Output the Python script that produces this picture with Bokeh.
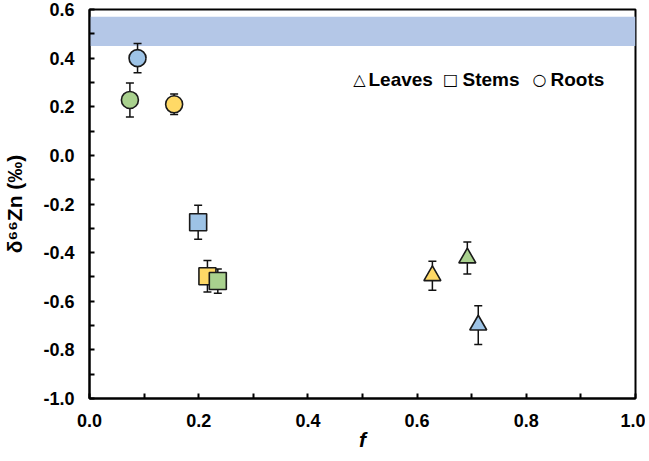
from bokeh.plotting import figure
from bokeh.models import (ColumnDataSource, FixedTicker, PrintfTickFormatter,
                          Whisker, TeeHead, Label, BoxAnnotation)
from bokeh.embed import file_html
from bokeh.resources import INLINE

# ---------------- data ----------------
BLUE = "#9DC3E6"
GREEN = "#A9D18E"
YELLOW = "#FFD966"

band_low = 0.45
band_high = 0.57

roots_f = [0.088, 0.074, 0.155]
roots_d = [0.400, 0.228, 0.210]
roots_err = [0.060, 0.070, 0.042]
roots_col = [BLUE, GREEN, YELLOW]

stems_f = [0.199, 0.216, 0.235]
stems_d = [-0.275, -0.497, -0.517]
stems_err = [0.070, 0.065, 0.050]
stems_col = [BLUE, YELLOW, GREEN]

leaves_f = [0.628, 0.692, 0.712]
leaves_d = [-0.495, -0.422, -0.698]
leaves_err = [0.060, 0.066, 0.080]
leaves_col = [YELLOW, GREEN, BLUE]

x_ticks = [0.0, 0.2, 0.4, 0.6, 0.8, 1.0]
x_minor = [0.1, 0.3, 0.5, 0.7, 0.9]
y_ticks = [-1.0, -0.8, -0.6, -0.4, -0.2, 0.0, 0.2, 0.4, 0.6]
y_minor = [-0.9, -0.7, -0.5, -0.3, -0.1, 0.1, 0.3, 0.5]

FONT = "Liberation Sans"
FH = 389

p = figure(output_backend="svg", toolbar_location=None,
           frame_width=546, frame_height=FH,
           x_range=(0.0, 1.0), y_range=(-1.0, 0.6),
           min_border_left=80, min_border_right=10,
           min_border_top=9, min_border_bottom=40,
           background_fill_color="white", border_fill_color="white")

p.xgrid.visible = False
p.ygrid.visible = False
p.outline_line_color = "black"
p.outline_line_width = 2

# band
p.add_layout(BoxAnnotation(bottom=band_low, top=band_high, left=0.0, right=1.0,
                           fill_color="#B4C7E7", fill_alpha=1.0, line_color=None,
                           level="underlay"))

def make_src(f, d, e, c):
    return ColumnDataSource(dict(
        f=f, d=d, c=c,
        lo=[v - w for v, w in zip(d, e)],
        hi=[v + w for v, w in zip(d, e)]))

groups = [
    (make_src(roots_f, roots_d, roots_err, roots_col), "circle", 17),
    (make_src(stems_f, stems_d, stems_err, stems_col), "square", 17),
    (make_src(leaves_f, leaves_d, leaves_err, leaves_col), "triangle", 17),
]

for src, _, _ in groups:
    w = Whisker(source=src, base="f", upper="hi", lower="lo",
                line_color="#111111", line_width=1.5,
                upper_head=TeeHead(size=8, line_color="#111111", line_width=1.5),
                lower_head=TeeHead(size=8, line_color="#111111", line_width=1.5))
    p.add_layout(w)

for src, marker, size in groups:
    p.scatter("f", "d", source=src, marker=marker, size=size,
              fill_color="c", line_color="#1a1a1a", line_width=1.6)

# axes
for ax in (p.xaxis[0], p.yaxis[0]):
    ax.axis_line_width = 2
    ax.axis_line_color = "black"
    ax.major_tick_in = 5
    ax.major_tick_out = 0
    ax.minor_tick_in = 5
    ax.minor_tick_out = 0
    ax.major_tick_line_width = 2
    ax.minor_tick_line_width = 2
    ax.major_tick_line_color = "black"
    ax.minor_tick_line_color = "black"
    ax.major_label_text_font = FONT
    ax.major_label_text_font_style = "bold"
    ax.major_label_text_font_size = "18px"
    ax.major_label_text_color = "black"
    ax.axis_label_text_font = FONT
    ax.axis_label_text_font_size = "21px"
    ax.axis_label_text_color = "black"
    ax.formatter = PrintfTickFormatter(format="%.1f")

p.xaxis[0].ticker = FixedTicker(ticks=x_ticks, minor_ticks=x_minor)
p.yaxis[0].ticker = FixedTicker(ticks=y_ticks, minor_ticks=y_minor)

p.xaxis[0].axis_label = "f"
p.xaxis[0].axis_label_text_font_style = "bold italic"
p.xaxis[0].major_label_standoff = 15
p.xaxis[0].axis_label_standoff = -2

p.yaxis[0].axis_label = "δ⁶⁶Zn (‰)"
p.yaxis[0].axis_label_text_font_style = "bold"
p.yaxis[0].major_label_standoff = 15
p.yaxis[0].axis_label_standoff = 14

# legend (text symbols, as in the original); screen px relative to the frame
LEG_Y = FH - 70
legend_items = [("△", "Leaves", 270, 279), ("□", "Stems", 361, 373), ("○", "Roots", 450, 461)]
for sym, name, sx, tx in legend_items:
    p.add_layout(Label(x=sx, y=LEG_Y, x_units="screen", y_units="screen",
                       text=sym, text_font="DejaVu Sans", text_font_size="16px",
                       text_align="center", text_baseline="middle", text_color="black"))
    p.add_layout(Label(x=tx, y=LEG_Y, x_units="screen", y_units="screen",
                       text=name, text_font=FONT, text_font_style="bold",
                       text_font_size="19px", text_align="left",
                       text_baseline="middle", text_color="black"))

open("out.html", "w").write(file_html(p, INLINE))
